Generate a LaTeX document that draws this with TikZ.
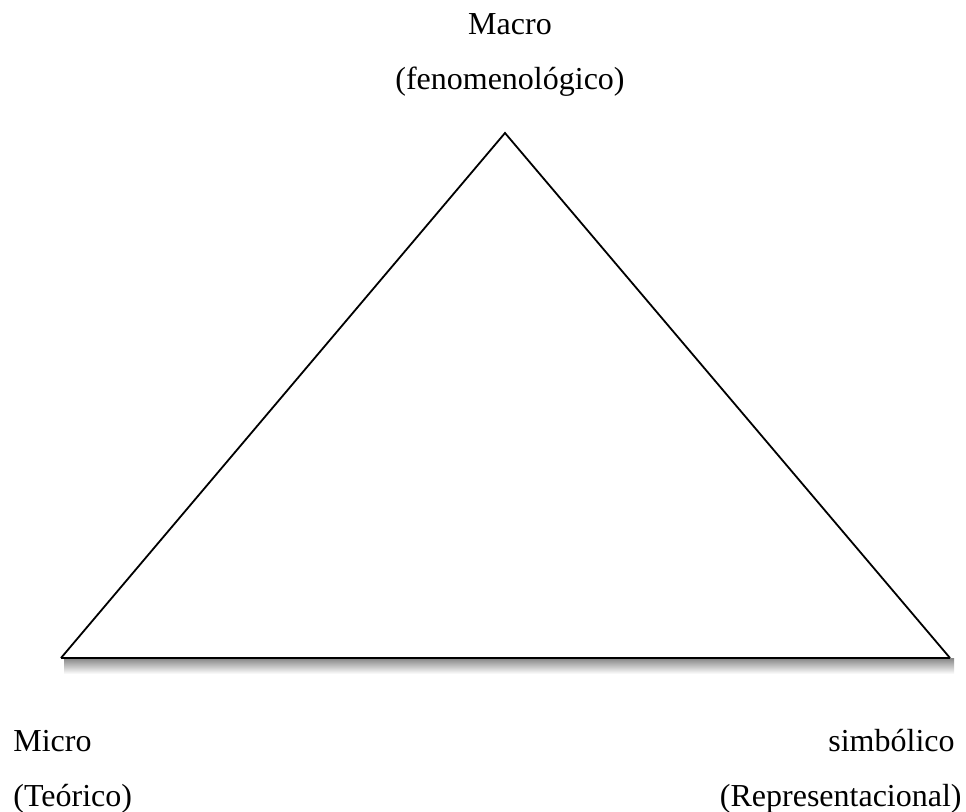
\documentclass[tikz,border=0pt]{standalone}
\usepackage{fontspec}
\setmainfont{Liberation Serif}
\usepackage{tikz}

\begin{document}
\begin{tikzpicture}[x=0.5pt,y=-0.5pt,
	label text/.style={inner sep=0pt,font=\fontsize{16}{19}\selectfont},
	side/.style={line width=0.9pt,line join=miter}]
	\useasboundingbox (0,0) rectangle (966,812);
	\coordinate (top) at (505,133);
	\coordinate (left) at (61,658);
	\coordinate (right) at (950,658);
	\shade[top color=black!45,bottom color=white] (64,659) rectangle (954,674);
	\draw[side] (left) -- (top) -- (right);
	\draw[side,line width=1.1pt] (left) -- (right);
	\node[label text,anchor=base] (macro) at (510,35) {Macro};
	\node[label text,anchor=base] (fenom) at (510,90) {(fenomenológico)};
	\node[label text,anchor=base west] (micro) at (13,752) {Micro};
	\node[label text,anchor=base west] (teor) at (13,807) {(Teórico)};
	\node[label text,anchor=base east] (simb) at (955,752) {simbólico};
	\node[label text,anchor=base east] (repr) at (962,807) {(Representacional)};
\end{tikzpicture}
\end{document}
